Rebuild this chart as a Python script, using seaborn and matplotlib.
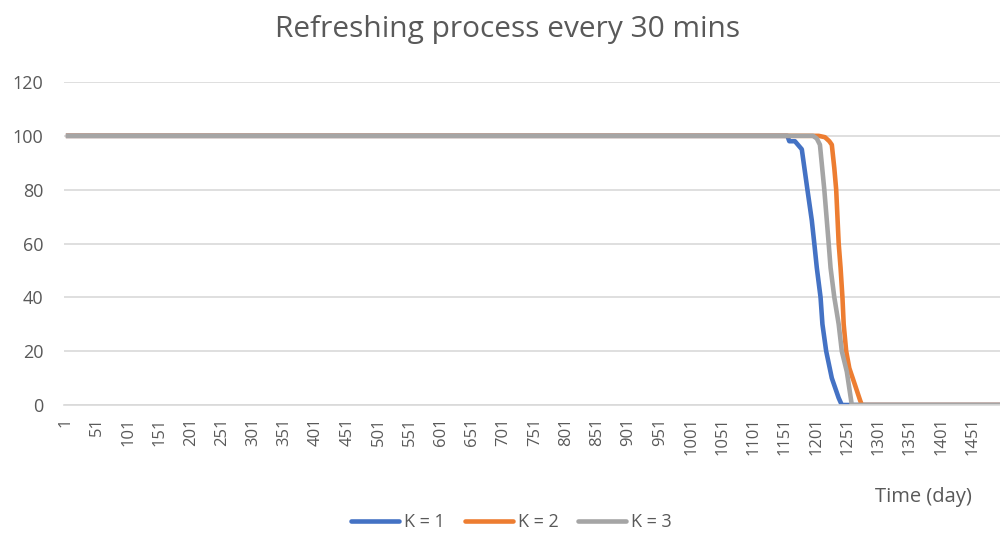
import matplotlib
matplotlib.use("Agg")
import matplotlib.pyplot as plt
import seaborn as sns
import pandas as pd

# ---- data (breakpoints) ----
k1_days = [1, 1155, 1158, 1167, 1178, 1187, 1194, 1198, 1202, 1208, 1211, 1217, 1226, 1237, 1242, 1500]
k1_vals = [100, 100, 98, 98, 95, 80, 68.6, 60, 51, 40, 30, 20, 10, 2.6, 0, 0]
k2_days = [1, 1205, 1215, 1222, 1226, 1230, 1233, 1237, 1240, 1243, 1245, 1249, 1254, 1263, 1271, 1274, 1500]
k2_vals = [100, 100, 99.5, 98, 96.7, 88, 80, 60, 51, 40, 30, 20, 13.7, 7.5, 1.9, 0, 0]
k3_days = [1, 1196, 1202, 1207, 1214, 1221, 1224, 1230, 1237, 1242, 1250, 1254, 1258, 1500]
k3_vals = [100, 100, 99, 96.7, 80, 60, 51, 40, 30, 20, 12.4, 6.2, 0, 0]
series_names = ["K = 1", "K = 2", "K = 3"]
x_ticks = list(range(1, 1452, 50))
y_ticks = [0, 20, 40, 60, 80, 100, 120]
colors = ["#4472C4", "#ED7D31", "#A5A5A5"]

frames = []
for name, d, v in zip(series_names, [k1_days, k2_days, k3_days], [k1_vals, k2_vals, k3_vals]):
    frames.append(pd.DataFrame({"day": d, "value": v, "series": name}))
df = pd.concat(frames, ignore_index=True)

sns.set_theme(style="white")
plt.rcParams["font.family"] = ["Open Sans", "DejaVu Sans"]
text_col = "#595959"

fig = plt.figure(figsize=(10, 5.35), dpi=100)
ax = fig.add_axes([0.064, 0.243, 0.936, 0.6037])

sns.lineplot(data=df, x="day", y="value", hue="series", palette=colors,
             linewidth=3.3, ax=ax, legend=False, estimator=None, sort=False)
for ln in ax.lines:
    ln.set_solid_joinstyle("round")
    ln.set_solid_capstyle("butt")

ax.set_xlim(-2, 1495)
ax.set_ylim(0, 120)
ax.set_yticks(y_ticks)
ax.set_xticks(x_ticks)
ax.set_xticklabels([str(t) for t in x_ticks], rotation=90, fontsize=12, color=text_col)
ax.set_yticklabels([str(t) for t in y_ticks], fontsize=13, color=text_col)
ax.tick_params(axis="both", length=0)
ax.tick_params(axis="x", pad=9)
ax.tick_params(axis="y", pad=15)
ax.yaxis.grid(True, color="#D9D9D9", linewidth=1.2)
ax.set_axisbelow(True)
for s in ["top", "right", "left"]:
    ax.spines[s].set_visible(False)
ax.spines["bottom"].set_color("#D9D9D9")
ax.spines["bottom"].set_linewidth(1.2)
ax.set_xlabel("")
ax.set_ylabel("")

fig.text(0.5075, 0.945, "Refreshing process every 30 mins", ha="center", va="center",
         fontsize=21.5, color=text_col)
fig.text(0.923, 0.071, "Time (day)", ha="center", va="center", fontsize=14.5, color=text_col)

handles = [plt.Line2D([0], [0], color=c, lw=3.3) for c in colors]
fig.legend(handles, series_names, loc="center", bbox_to_anchor=(0.5115, 0.0243), ncol=3,
           frameon=False, fontsize=13, labelcolor=text_col, handlelength=2.66,
           handletextpad=0.28, columnspacing=1.1, borderpad=0, borderaxespad=0)

fig.savefig("out.png", dpi=100)
